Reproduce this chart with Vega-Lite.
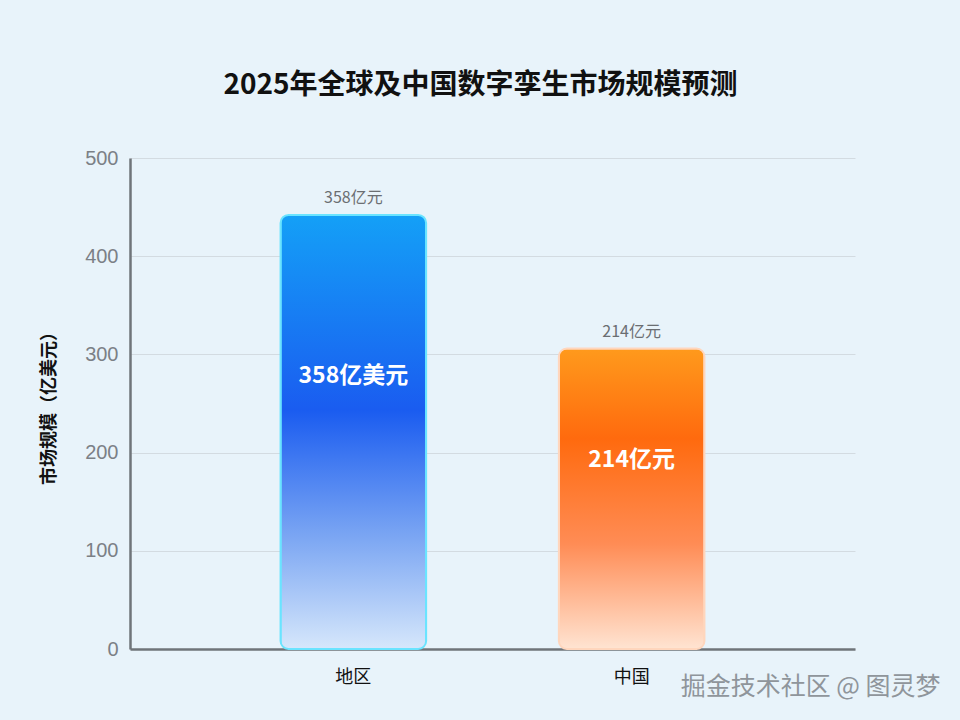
{
  "$schema": "https://vega.github.io/schema/vega-lite/v6.json",
  "width": 725,
  "height": 491,
  "autosize": "none",
  "padding": {"left": 130, "top": 158, "right": 105, "bottom": 71},
  "background": "#e8f3fa",
  "config": {
    "font": "Liberation Sans, Noto Sans CJK SC",
    "view": {"stroke": null}
  },
  "title": {
    "text": "2025年全球及中国数字孪生市场规模预测",
    "fontSize": 28,
    "fontWeight": "bold",
    "color": "#111111",
    "font": "Noto Sans CJK SC",
    "anchor": "middle",
    "frame": "group",
    "dx": -12,
    "baseline": "middle",
    "offset": 34
  },
  "data": {
    "values": [
      {"region": "地区", "value": 442, "top": "358亿元", "inner": "358亿美元"},
      {"region": "中国", "value": 306, "top": "214亿元", "inner": "214亿元"}
    ]
  },
  "encoding": {
    "x": {
      "field": "region",
      "type": "nominal",
      "sort": ["地区", "中国"],
      "scale": {"paddingInner": 0.477, "paddingOuter": 0.541},
      "axis": {
        "title": "掘金技术社区 @ 图灵梦",
        "titleX": 810,
        "titleY": 37,
        "titleAlign": "right",
        "titleAnchor": null,
        "titleBaseline": "middle",
        "titleColor": "#8f959b",
        "titleFontSize": 25,
        "titleFontWeight": "normal",
        "titleFont": "Noto Sans CJK SC",
        "labelAngle": 0,
        "labelFontSize": 18,
        "labelColor": "#111111",
        "labelFont": "Noto Sans CJK SC",
        "labelPadding": 19,
        "ticks": false,
        "domainColor": "#6f7479",
        "domainWidth": 2.5,
        "grid": false
      }
    },
    "y": {
      "field": "value",
      "type": "quantitative",
      "scale": {"domain": [0, 500], "nice": false},
      "axis": {
        "title": "市场规模（亿美元）",
        "titleFontSize": 18,
        "titleFontWeight": "bold",
        "titleFont": "Noto Sans CJK SC",
        "titleColor": "#111111",
        "titlePadding": 26,
        "values": [0, 100, 200, 300, 400, 500],
        "labelFontSize": 20,
        "labelColor": "#7b8086",
        "labelPadding": 12,
        "ticks": false,
        "domainColor": "#6f7479",
        "domainWidth": 2.5,
        "gridColor": "#d3dbe1",
        "gridWidth": 1.2
      }
    }
  },
  "layer": [
    {
      "transform": [{"filter": "datum.region === '地区'"}],
      "mark": {
        "type": "bar",
        "cornerRadius": 8,
        "stroke": "#6ae4ff",
        "strokeWidth": 2,
        "color": {
          "gradient": "linear",
          "x1": 0, "y1": 0, "x2": 0, "y2": 1,
          "stops": [
            {"offset": 0, "color": "#14a0f7"},
            {"offset": 0.45, "color": "#1a5cf0"},
            {"offset": 0.75, "color": "#7ea8f3"},
            {"offset": 1, "color": "#d6e7fb"}
          ]
        }
      }
    },
    {
      "transform": [{"filter": "datum.region === '中国'"}],
      "mark": {
        "type": "bar",
        "cornerRadius": 8,
        "stroke": "#ffd6bd",
        "strokeWidth": 2,
        "color": {
          "gradient": "linear",
          "x1": 0, "y1": 0, "x2": 0, "y2": 1,
          "stops": [
            {"offset": 0, "color": "#ff9a1c"},
            {"offset": 0.3, "color": "#ff6a0e"},
            {"offset": 0.65, "color": "#ff8c55"},
            {"offset": 1, "color": "#ffe4d2"}
          ]
        }
      }
    },
    {
      "mark": {"type": "text", "dy": -17, "baseline": "middle", "fontSize": 16, "color": "#6b6e72", "font": "Noto Sans CJK SC"},
      "encoding": {"text": {"field": "top"}}
    },
    {
      "transform": [{"calculate": "datum.value * 0.63", "as": "mid"}],
      "mark": {"type": "text", "baseline": "middle", "fontSize": 23, "fontWeight": "bold", "color": "#ffffff", "font": "Noto Sans CJK SC"},
      "encoding": {
        "y": {"field": "mid", "type": "quantitative"},
        "text": {"field": "inner"}
      }
    }
  ]
}
